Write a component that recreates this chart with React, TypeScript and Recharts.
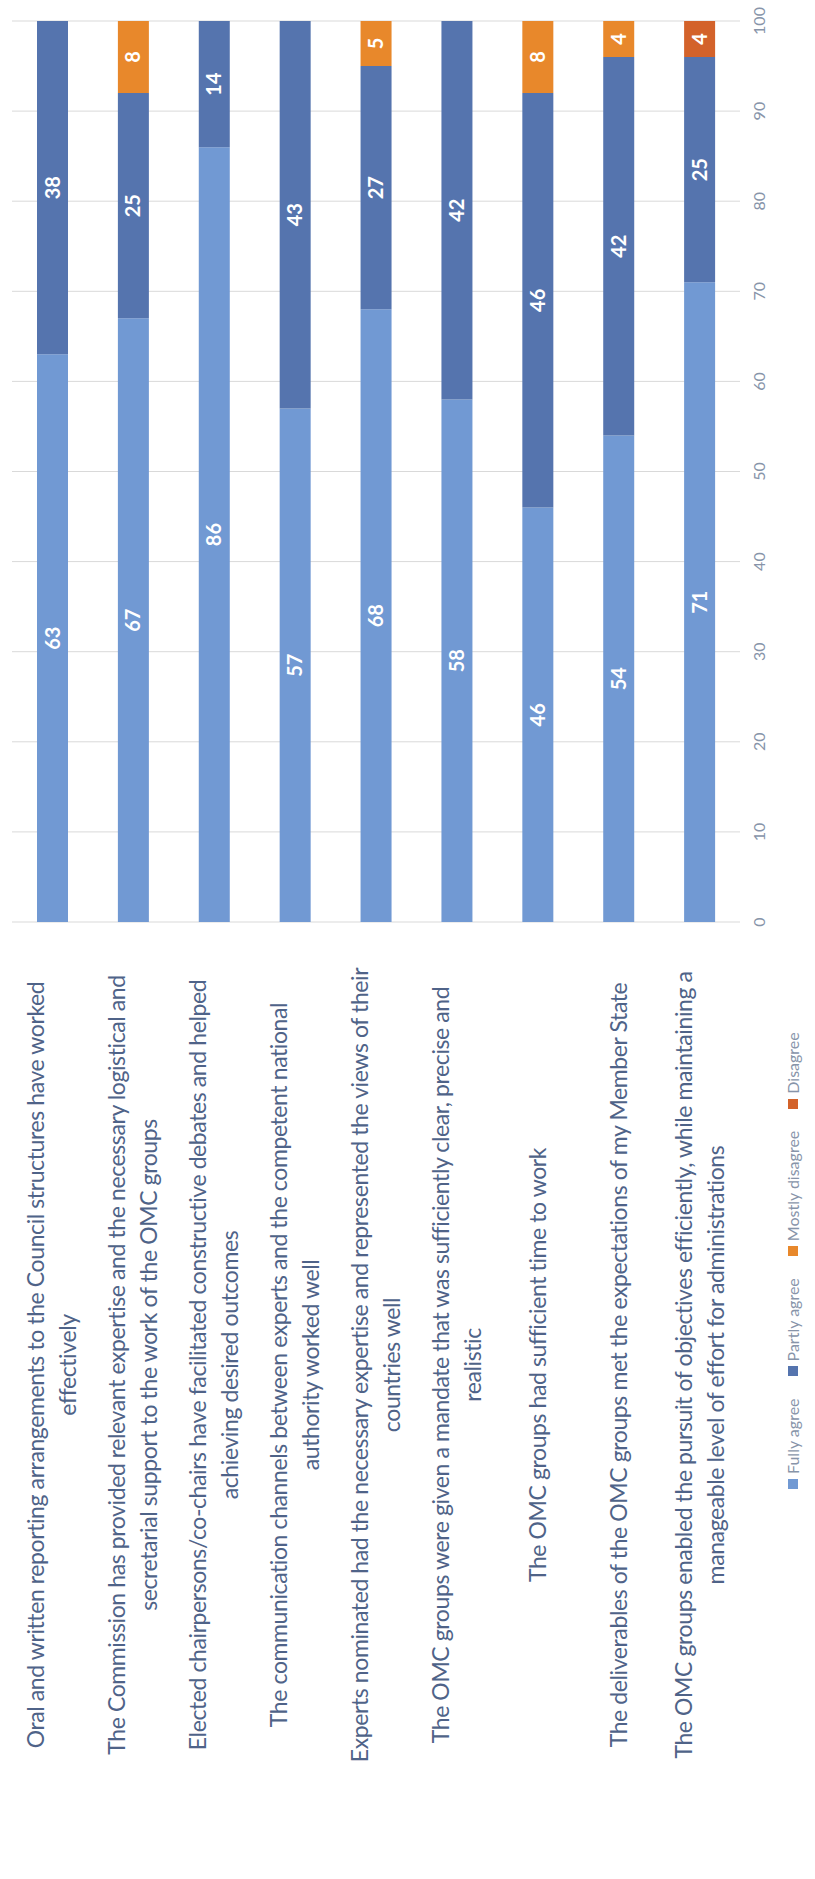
import React from 'react';
import { BarChart, Bar, XAxis, YAxis, CartesianGrid, Legend, LabelList } from 'recharts';

// category labels, wrapped the way the reference wraps them
const categoryLines = [
  ['Oral and written reporting arrangements to the Council structures have worked', 'effectively'],
  ['The Commission has provided relevant expertise and the necessary logistical and', 'secretarial support to the work of the OMC groups'],
  ['Elected chairpersons/co-chairs have facilitated constructive debates and helped', 'achieving desired outcomes'],
  ['The communication channels between experts and the competent national', 'authority worked well'],
  ['Experts nominated had the necessary expertise and represented the views of their', 'countries well'],
  ['The OMC groups were given a mandate that was sufficiently clear, precise and', 'realistic'],
  ['The OMC groups had sufficient time to work'],
  ['The deliverables of the OMC groups met the expectations of my Member State'],
  ['The OMC groups enabled the pursuit of objectives efficiently, while maintaining a', 'manageable level of effort for administrations'],
];
const categories = categoryLines.map((l) => l.join(' '));

const fullyAgree = [63, 67, 86, 57, 68, 58, 46, 54, 71];
const partlyAgree = [38, 25, 14, 43, 27, 42, 46, 42, 25];
const mostlyDisagree = [0, 8, 0, 0, 5, 0, 8, 4, 0];
const disagree = [0, 0, 0, 0, 0, 0, 0, 0, 4];

const valueTicks = [0, 10, 20, 30, 40, 50, 60, 70, 80, 90, 100];

const series = [
  { key: 'fully', name: 'Fully agree', color: '#7199d3' },
  { key: 'partly', name: 'Partly agree', color: '#5574ae' },
  { key: 'mostly', name: 'Mostly disagree', color: '#e8882b' },
  { key: 'disagree', name: 'Disagree', color: '#d3622a' },
];

const data = categories.map((name, i) => ({
  name,
  fully: fullyAgree[i],
  partly: partlyAgree[i],
  mostly: mostlyDisagree[i],
  disagree: disagree[i],
}));

const FONT = 'Lato, "Open Sans", sans-serif';
const LABEL_COLOR = '#4f6388';
const TICK_COLOR = '#8794a9';

// the chart is drawn as a normal horizontal bar chart and the whole thing is turned -90deg
const W = 1879;
const H = 815;

function CategoryTick(props: any) {
  const { y, payload } = props;
  const idx = categories.indexOf(payload.value);
  const lines = idx >= 0 ? categoryLines[idx] : [String(payload.value)];
  const lh = 32;
  const fs = 23;
  const top = y - ((lines.length - 1) * lh) / 2;
  return (
    <text textAnchor="middle" fill={LABEL_COLOR} fontSize={fs} fontFamily={FONT} letterSpacing={-0.4}>
      {lines.map((line, i) => (
        <tspan key={i} x={514} y={top + i * lh + fs * 0.35}>
          {line}
        </tspan>
      ))}
    </text>
  );
}

function LegendContent() {
  return (
    <div style={{ display: 'flex', gap: 22, alignItems: 'center', fontFamily: FONT, fontSize: 16, color: TICK_COLOR }}>
      {series.map((s) => (
        <div key={s.key} style={{ display: 'flex', alignItems: 'center', gap: 5 }}>
          <span style={{ width: 10, height: 10, background: s.color, display: 'inline-block' }} />
          <span>{s.name}</span>
        </div>
      ))}
    </div>
  );
}

const hideZero = (v: any) => (v ? v : '');

export default function App() {
  return (
    <div style={{ position: 'absolute', left: 0, top: 0, width: H, height: W, overflow: 'hidden', background: '#fff' }}>
      <div
        style={{
          position: 'absolute',
          left: 0,
          top: 0,
          width: W,
          height: H,
          transformOrigin: '0 0',
          transform: `translateY(${W}px) rotate(-90deg)`,
        }}
      >
        <BarChart
          width={W}
          height={H}
          data={data}
          layout="vertical"
          margin={{ top: 12, right: 21, bottom: 0, left: 0 }}
        >
          <CartesianGrid horizontal={false} stroke="#d9d9d9" />
          <XAxis
            type="number"
            domain={[0, 100]}
            ticks={valueTicks}
            allowDataOverflow
            axisLine={false}
            tickLine={false}
            tickSize={0}
            tickMargin={14}
            height={75}
            tick={{ fill: TICK_COLOR, fontSize: 16, fontFamily: FONT }}
          />
          <YAxis
            type="category"
            dataKey="name"
            width={957}
            axisLine={false}
            tickLine={false}
            interval={0}
            tick={<CategoryTick />}
          />
          <Legend
            layout="horizontal"
            verticalAlign="middle"
            align="center"
            content={<LegendContent />}
            wrapperStyle={{ left: 390, top: 783, width: 480 }}
          />
          {series.map((s) => (
            <Bar key={s.key} dataKey={s.key} name={s.name} stackId="a" fill={s.color} barSize={31} isAnimationActive={false}>
              <LabelList
                dataKey={s.key}
                position="center"
                fill="#ffffff"
                fontSize={20}
                fontWeight="bold"
                fontFamily={FONT}
                formatter={hideZero}
              />
            </Bar>
          ))}
        </BarChart>
      </div>
    </div>
  );
}
